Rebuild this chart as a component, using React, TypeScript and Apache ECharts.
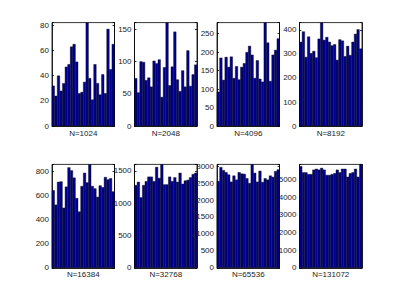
import React, { useEffect, useRef } from "react";
import * as echarts from "echarts";

const panelLabels = ["N=1024", "N=2048", "N=4096", "N=8192", "N=16384", "N=32768", "N=65536", "N=131072"];

const counts1024 = [32, 24, 40, 28, 34, 47, 49, 63, 65, 51, 26, 27, 35, 82, 38, 21, 49, 34, 25, 41, 26, 77, 45, 65];
const counts2048 = [74, 52, 100, 99, 71, 75, 61, 101, 97, 103, 45, 91, 160, 63, 92, 146, 72, 54, 86, 61, 117, 62, 80, 95];
const counts4096 = [93, 185, 125, 187, 160, 188, 130, 162, 126, 160, 170, 200, 217, 193, 130, 178, 128, 120, 280, 226, 122, 193, 206, 237];
const counts8192 = [350, 393, 287, 372, 303, 312, 285, 363, 430, 358, 370, 350, 335, 340, 275, 360, 355, 290, 333, 295, 350, 383, 402, 322];
const counts16384 = [645, 525, 715, 718, 500, 675, 835, 810, 750, 580, 468, 680, 790, 710, 860, 680, 660, 590, 685, 670, 755, 735, 745, 635];
const counts32768 = [1280, 1330, 1090, 1280, 1340, 1410, 1410, 1340, 1560, 1390, 1600, 1290, 1290, 1410, 1340, 1400, 1330, 1470, 1300, 1350, 1360, 1400, 1450, 1470];
const counts65536 = [2560, 2970, 2880, 2820, 2750, 2540, 2720, 2600, 2820, 2780, 2770, 2640, 2500, 3050, 2800, 2540, 2860, 2530, 2640, 2600, 2720, 2680, 2850, 2900];
const counts131072 = [5750, 5400, 5400, 5300, 5300, 5550, 5600, 5550, 5650, 5550, 5250, 5250, 5300, 5350, 5550, 5400, 5600, 5600, 5150, 5350, 5400, 5600, 5150, 5850];

const yTickIntervals = [20, 50, 50, 100, 200, 500, 500, 1000];

const allCounts = [counts1024, counts2048, counts4096, counts8192, counts16384, counts32768, counts65536, counts131072];
const binIndex = counts1024.map((_, i) => String(i + 1));

export default function App() {
  const ref = useRef<HTMLDivElement>(null);
  useEffect(() => {
    if (!ref.current) return;
    const chart = echarts.init(ref.current, null, { renderer: "svg" });
    const lefts = [52, 134.5, 217, 299.5];
    const tops = [22.6, 164.4];
    const W = 62.5;
    const H = 103.5;
    const grid: any[] = [];
    const xAxis: any[] = [];
    const yAxis: any[] = [];
    const series: any[] = [];
    allCounts.forEach((data, k) => {
      const col = k % 4;
      const row = Math.floor(k / 4);
      const max = Math.max(...data);
      const iv = yTickIntervals[k];
      grid.push({
        left: lefts[col],
        top: tops[row],
        width: W,
        height: H,
        show: true,
        borderColor: "#000",
        borderWidth: 0.8,
        backgroundColor: "#fff",
        containLabel: false,
      });
      xAxis.push({
        type: "category",
        gridIndex: k,
        data: binIndex,
        boundaryGap: true,
        axisLine: { show: true, lineStyle: { color: "#000", width: 0.8 } },
        axisTick: { show: false },
        axisLabel: { show: false },
        splitLine: { show: false },
        name: panelLabels[k],
        nameLocation: "middle",
        nameGap: 3,
        nameTextStyle: { fontFamily: "Liberation Sans", fontSize: 8, color: "#222", verticalAlign: "top" },
      });
      const yCommon = {
        type: "value",
        gridIndex: k,
        min: 0,
        max,
        interval: iv,
        splitLine: { show: false },
      };
      yAxis.push({
        ...yCommon,
        position: "left",
        axisLine: { show: true, lineStyle: { color: "#000", width: 0.8 } },
        axisTick: { show: true, inside: true, length: 2, lineStyle: { color: "#000", width: 0.8 } },
        axisLabel: {
          show: true,
          margin: 3,
          fontFamily: "Liberation Sans",
          fontSize: 8,
          color: "#222",
          formatter: (v: number) => (v % iv === 0 ? String(v) : ""),
        },
      });
      yAxis.push({
        ...yCommon,
        position: "right",
        axisLine: { show: true, lineStyle: { color: "#000", width: 0.8 } },
        axisTick: { show: true, inside: true, length: 2, lineStyle: { color: "#000", width: 0.8 } },
        axisLabel: { show: false },
      });
      series.push({
        type: "bar",
        xAxisIndex: k,
        yAxisIndex: 2 * k,
        data,
        barWidth: 2.9,
        barGap: "-100%",
        itemStyle: { color: "#00008f", borderColor: "#000", borderWidth: 0.4 },
      });
    });
    chart.setOption({
      animation: false,
      backgroundColor: "#fff",
      grid,
      xAxis,
      yAxis,
      series,
    });
    return () => chart.dispose();
  }, []);
  return <div ref={ref} style={{ position: "fixed", left: 0, top: 0, width: 400, height: 301 }} />;
}
